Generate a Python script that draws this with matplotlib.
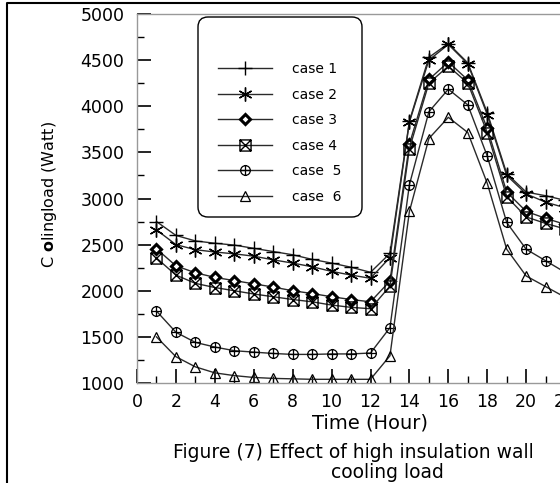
import numpy as np
import matplotlib
matplotlib.use("Agg")
import matplotlib.pyplot as plt
from matplotlib.path import Path
from matplotlib.lines import Line2D
from matplotlib.patches import FancyBboxPatch
from matplotlib.transforms import IdentityTransform

plt.rcParams['font.family'] = ['DejaVu Sans']
plt.rcParams['mathtext.fontset'] = 'custom'
plt.rcParams['mathtext.rm'] = 'DejaVu Sans'
plt.rcParams['mathtext.bf'] = 'DejaVu Sans:bold'

#### datos (hora 22-24 quedan fuera del recorte)
hours = list(range(1, 25))
case1 = [2750, 2600, 2540, 2515, 2495, 2460, 2425, 2390, 2340, 2300, 2255, 2200,
         2405, 3840, 4530, 4680, 4470, 3930, 3270, 3070, 3030, 2980, 2930, 2880]
case2 = [2660, 2500, 2445, 2420, 2400, 2375, 2335, 2300, 2260, 2210, 2170, 2135,
         2360, 3830, 4500, 4670, 4460, 3910, 3250, 3050, 2960, 2900, 2850, 2800]
case3 = [2455, 2270, 2195, 2145, 2110, 2075, 2040, 2000, 1970, 1935, 1905, 1880,
         2105, 3590, 4290, 4480, 4285, 3760, 3070, 2860, 2785, 2720, 2660, 2600]
case4 = [2355, 2170, 2080, 2035, 2000, 1965, 1935, 1905, 1880, 1845, 1820, 1805,
         2050, 3540, 4250, 4435, 4250, 3715, 3020, 2800, 2730, 2670, 2610, 2550]
case5 = [1780, 1550, 1440, 1390, 1350, 1335, 1320, 1310, 1310, 1315, 1315, 1325,
         1600, 3150, 3940, 4185, 4015, 3460, 2740, 2450, 2325, 2200, 2100, 2000]
case6 = [1500, 1285, 1175, 1110, 1080, 1060, 1050, 1045, 1040, 1040, 1040, 1040,
         1295, 2860, 3650, 3880, 3715, 3165, 2450, 2160, 2045, 1930, 1850, 1780]
labels = ['case 1', 'case 2', 'case 3', 'case 4', 'case  5', 'case  6']
xticks = list(range(0, 25, 2))
yticks = list(range(1000, 5001, 500))

#### marcadores especiales
M, L = Path.MOVETO, Path.LINETO
caja_x = Path([(-1, -1), (1, -1), (1, 1), (-1, 1), (-1, -1), (1, 1), (-1, 1), (1, -1)],
              [M, L, L, L, L, L, M, L])
cruz = Path([(-1, 0), (1, 0), (0, -1.15), (0, 1.15)], [M, L, M, L])
circ_mas = Path.make_compound_path(Path.unit_circle(), cruz)

estilos = [
    dict(marker='+', ms=10, mew=1.0, mfc='none'),
    dict(marker=(6, 2, 0), ms=10, mew=1.0, mfc='none'),
    dict(marker='D', ms=5.5, mew=2.2, mfc='white'),
    dict(marker=caja_x, ms=8, mew=1.0, mfc='none'),
    dict(marker=circ_mas, ms=8, mew=0.9, mfc='none'),
    dict(marker='^', ms=7, mew=0.9, mfc='none'),
]
series = [case1, case2, case3, case4, case5, case6]

fig = plt.figure(figsize=(5.6, 4.83), dpi=100)
# el eje sigue fuera de la imagen por la derecha (recorte del original)
ax = fig.add_axes([137/560, 1-383/483, (604-137)/560, (383-14)/483])

for ys, st in zip(series, estilos):
    ax.plot(hours, ys, color='#2a2a2a', lw=1.0, mec='black', **st)

ax.set_xlim(0, 24)
ax.set_ylim(1000, 5000)
ax.set_xticks(xticks)
ax.set_xticks(range(1, 25, 2), minor=True)
ax.set_yticks(yticks)
ax.set_yticks(range(1250, 5000, 500), minor=True)
ax.tick_params(which='major', direction='in', length=10, width=1.2, labelsize=12.5, color='black')
ax.tick_params(which='minor', direction='in', length=5, width=1.0, color='black')
ax.tick_params(axis='x', pad=7)
ax.tick_params(axis='y', pad=9)
for s in ax.spines.values():
    s.set_color('#999999')
    s.set_linewidth(1.0)

fig.text(370/560, 1-423/483, 'Time (Hour)', ha='center', va='center', fontsize=14)
fig.text(50/560, 1-194/483, r'C $\mathbf{o}$lingload (Watt)', rotation=90,
         ha='center', va='center', fontsize=11.5)
fig.text(353/560, 1-453/483, 'Figure (7) Effect of high insulation wall',
         ha='center', va='center', fontsize=13.5)
fig.text(387/560, 1-473/483, 'cooling load', ha='center', va='center', fontsize=13.5)

#### cuadro de leyenda redondeado
caja = FancyBboxPatch((198, 483-217), 362-198, 217-17,
                      boxstyle='round,pad=0,rounding_size=10',
                      transform=IdentityTransform(), fc='white', ec='black', lw=1.0)
fig.add_artist(caja)
handles = [Line2D([], [], color='#2a2a2a', lw=1.0, mec='black', **st) for st in estilos]
fig.legend(handles, labels, loc='upper left', bbox_to_anchor=(218/560, 1-62/483),
           frameon=False, fontsize=10, handlelength=3.9, handletextpad=1.4,
           labelspacing=0.83, borderpad=0, borderaxespad=0)

#### marco negro de la imagen
fig.add_artist(Line2D([7/560, 7/560, 1], [0, 1-3/483, 1-3/483],
                      transform=fig.transFigure, color='black', lw=1.5))

fig.savefig('out.png', dpi=100)
